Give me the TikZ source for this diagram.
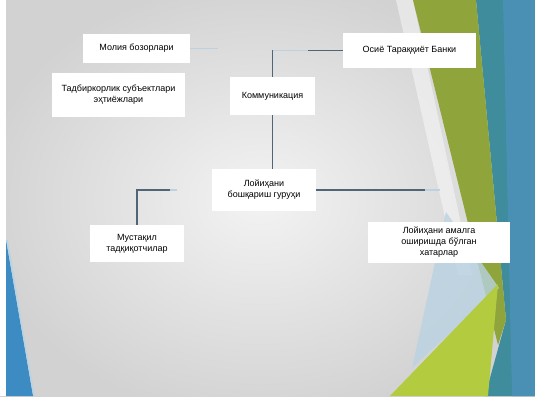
\documentclass[tikz,border=0pt]{standalone}
\usepackage{fontspec}
\setmainfont{Liberation Sans}
\usetikzlibrary{shadows}

\definecolor{bgedge}{HTML}{D2D2D2}
\definecolor{bgmid}{HTML}{F3F3F3}
\definecolor{tealA}{HTML}{3F8C9C}
\definecolor{tealB}{HTML}{4A90B4}
\definecolor{oliveA}{HTML}{8FA53C}
\definecolor{limeA}{HTML}{B3CB3E}
\definecolor{paleA}{HTML}{B9D3E2}
\definecolor{blueL}{HTML}{3C8BC3}
\definecolor{linkgray}{HTML}{516579}
\definecolor{fadeblue}{HTML}{BCD2E2}

\begin{document}
\begin{tikzpicture}[x=1pt,y=-1pt,
  box/.style={fill=white, align=center, inner sep=0pt,
    font=\fontsize{9}{11}\selectfont,
    general shadow={fill=black!45, opacity=0.25, shift={(0.7pt,-1.1pt)}}},
  link/.style={draw=linkgray, line width=1.3pt},
  fade/.style={draw=fadeblue, line width=1.2pt}]
\useasboundingbox (0,0) rectangle (535,396);

% slide background
\fill[bgedge] (0,0) rectangle (535,396);
\shade[inner color=bgmid, outer color=bgedge] (-20,-20) rectangle (540,420);
\fill[white] (0,0) rectangle (6,396);

% decorative bands on the right
\fill[white, opacity=0.45] (396,0) -- (413,0) -- (472,275) -- (458,275) -- cycle;
\fill[tealA] (476,0) -- (535,0) -- (535,396) -- (485,396) -- (506,320) -- cycle;
\fill[tealB] (503,0) -- (535,0) -- (535,396) -- (512,396) -- cycle;
\fill[oliveA] (413,0) -- (476,0) -- (506,320) -- (498,345) -- cycle;
\fill[paleA, opacity=0.8] (446,212) -- (499,288) -- (412,368) -- cycle;
\fill[limeA] (390,396) -- (498,284) -- (488,396) -- cycle;

% decorative band on the lower left
\fill[blueL] (6,240) -- (33,396) -- (6,396) -- cycle;
\draw[paleA, line width=1.5pt] (7,240) -- (34,396);

% boxes
\node[box, minimum width=107pt, minimum height=29pt] (fin) at (136.5,48.5) {Молия бозорлари};
\node[box, minimum width=133pt, minimum height=44pt] (biz) at (118.5,95) {Тадбиркорлик субъектлари\\эҳтиёжлари};
\node[box, minimum width=85pt, minimum height=38pt] (com) at (272.5,96) {Коммуникация};
\node[box, minimum width=133pt, minimum height=35pt] (adb) at (409.5,50.5) {Осиё Тараққиёт Банки};
\node[box, minimum width=104pt, minimum height=42pt] (pmg) at (264,190) {Лойиҳани\\бошқариш гуруҳи};
\node[box, minimum width=94pt, minimum height=37pt] (ind) at (137,243.5) {Мустақил\\тадқиқотчилар};
\node[box, minimum width=142pt, minimum height=41pt] (risk) at (439,242.5) {Лойиҳани амалга\\оширишда бўлган\\хатарлар};

% connector ends
\coordinate (finEnd) at (218,48.5);
\coordinate (comTop) at (272.5,50.5);
\coordinate (comMid) at (308,50.5);
\coordinate (pmgR1) at (425,190);
\coordinate (pmgR2) at (440,190);
\coordinate (pmgL) at (177,190);
\coordinate (pmgLin) at (170,190);

% connectors
\draw[fade] (fin.east) -- (finEnd);
\draw[link] (com.north) -- (comTop);
\draw[fade] (comTop) -- (comMid);
\draw[link] (comMid) -- (adb.west);
\draw[link] (com.south) -- (com.south |- pmg.north);
\draw[link] (pmg.east) -- (pmgR1);
\draw[fade] (pmgR1) -- (pmgR2);
\draw[fade] (pmgL) -- (pmgLin);
\draw[link] (pmgLin) -| (ind.north);
\end{tikzpicture}
\end{document}
